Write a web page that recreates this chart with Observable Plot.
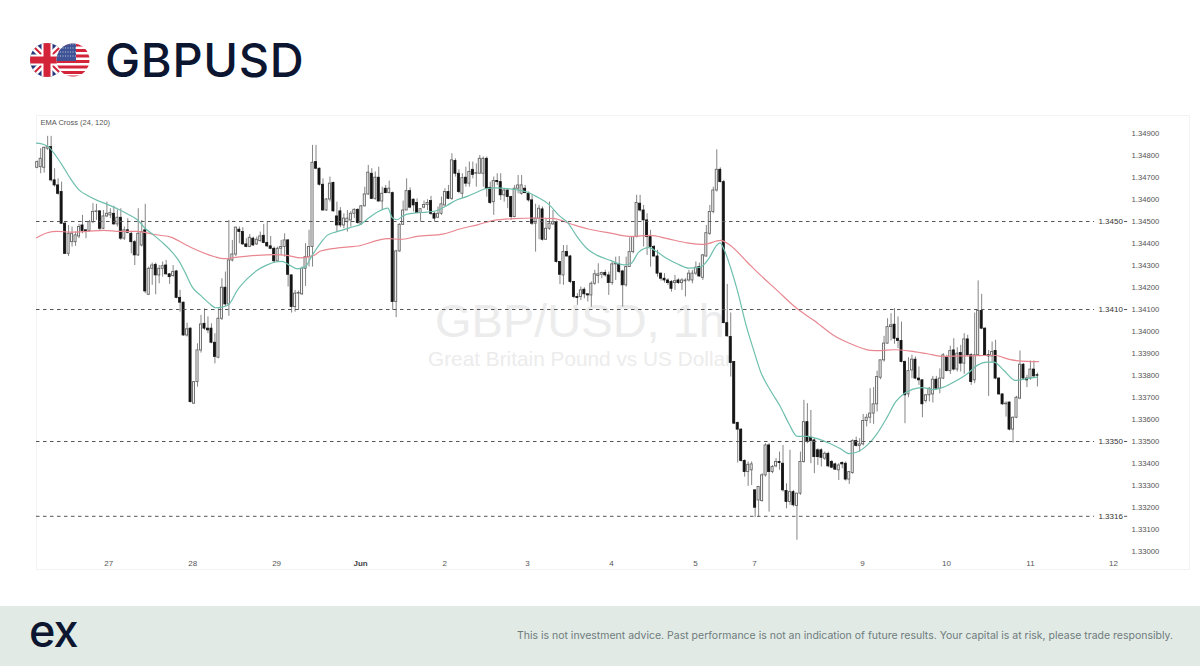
<!DOCTYPE html>
<html>
<head>
<meta charset="utf-8">
<script src="https://cdn.jsdelivr.net/npm/d3@7"></script>
<script src="https://cdn.jsdelivr.net/npm/@observablehq/plot@0.6"></script>
<style>
html,body{margin:0;padding:0;background:#fff;}
#page{position:relative;width:1200px;height:666px;overflow:hidden;}
#head{position:absolute;left:0;top:0;width:1200px;height:115px;}
#flags{position:absolute;left:28px;top:41px;}
#title{position:absolute;left:105px;top:36px;font:500 47px/47px Inter,sans-serif;color:#0c1630;letter-spacing:.7px;}
#panel{position:absolute;left:36px;top:115px;width:1154px;height:455px;border:1px solid #f2f3f3;box-sizing:border-box;}
#chart{position:absolute;left:0;top:115px;}
#foot{position:absolute;left:0;top:606px;width:1200px;height:60px;background:#e1eae5;}
#logo{position:absolute;left:29px;top:3px;font:500 45px/44px Inter,sans-serif;color:#0c1630;letter-spacing:-1px;}
#note{position:absolute;right:27px;top:22px;font:400 10.5px/16px Inter,sans-serif;color:#6f7c7d;white-space:nowrap;}
</style>
</head>
<body>
<div id="page">
  <div id="head">
    <svg id="flags" width="64" height="38" viewBox="0 0 64 38">
      <defs>
        <clipPath id="uk"><circle cx="19" cy="19" r="17"/></clipPath>
        <clipPath id="us"><circle cx="45" cy="19" r="16.5"/></clipPath>
      </defs>
      <g clip-path="url(#uk)">
        <rect width="38" height="38" fill="#24357c"/>
        <path d="M0 0L38 38M38 0L0 38" stroke="#fff" stroke-width="7"/>
        <path d="M0 0L38 38M38 0L0 38" stroke="#d3243a" stroke-width="2"/>
        <path d="M19 0V38M0 19H38" stroke="#fff" stroke-width="11"/>
        <path d="M19 0V38M0 19H38" stroke="#d3243a" stroke-width="7"/>
      </g>
      <g clip-path="url(#us)">
        <rect x="27" width="37" height="38" fill="#fff"/>
        <path d="M27 4H64M27 9.5H64M27 15H64M27 20.5H64M27 26H64M27 31.500H64M27 36H64" stroke="#d3243a" stroke-width="2.800"/>
        <rect x="27" width="21" height="20" fill="#3f5596"/>
        <path d="M27 3H48M27 7H48M27 11H48M27 15H48" stroke="#fff" stroke-width="1" stroke-dasharray="1,1.500" opacity=".7"/>
      </g>
    </svg>
    <div id="title">GBPUSD</div>
  </div>
  <div id="panel"></div>
  <div id="chart"></div>
  <div id="foot">
    <div id="logo">ex</div>
    <div id="note">This is not investment advice. Past performance is not an indication of future results. Your capital is at risk, please trade responsibly.</div>
  </div>
</div>
<script>
// hourly candles, each row is [open, high, low, close] in 1/100000 of a dollar
const hours001 = [
[134744,134775,134740,134770],[134747,134831,134717,134785],[134744,134838,134720,134835],[134831,134887,134823,134838],
[134838,134887,134679,134687],[134687,134740,134656,134664],[134664,134694,134619,134626],[134634,134679,134487,134490],
[134490,134497,134350,134353],[134353,134482,134341,134444],[134406,134475,134384,134444],[134406,134452,134387,134437],
[134432,134487,134422,134475],[134482,134528,134444,134457],[134460,134462,134422,134452],[134457,134505,134452,134497],
[134497,134581,134490,134543],[134543,134578,134505,134546],[134546,134550,134457,134467],[134467,134550,134463,134523],
[134523,134588,134517,134535],[134528,134558,134513,134538],[134535,134569,134482,134487],[134487,134553,134475,134517]];
const hours025 = [
[134517,134558,134414,134422],[134422,134475,134414,134460],[134460,134513,134444,134449],[134444,134452,134353,134406],
[134406,134414,134300,134346],[134346,134558,134341,134444],[134391,134505,134384,134452],[134460,134578,134172,134182],
[134167,134293,134164,134285],[134285,134311,134210,134300],[134303,134311,134167,134255],[134255,134300,134217,134285],
[134285,134316,134247,134297],[134300,134323,134255,134260],[134260,134263,134214,134247],[134252,134300,134247,134270],
[134273,134278,134149,134153],[134153,134187,134088,134131],[134131,134134,133978,133982],[133982,134038,133975,134010],
[134013,134016,133675,133679],[133672,133772,133669,133770],[133770,133944,133747,133914],[133914,134073,133902,134032]];
const hours049 = [
[134035,134103,134005,134013],[134013,134066,133990,134005],[134013,134035,133944,133949],[133949,133990,133853,133884],
[133881,134103,133876,134058],[134058,134240,134050,134199],[134199,134270,134114,134123],[134123,134505,134069,134323],
[134323,134414,134316,134350],[134350,134475,134341,134472],[134463,134475,134399,134452],[134452,134472,134391,134396],
[134396,134422,134381,134384],[134384,134441,134381,134426],[134422,134429,134387,134391],[134396,134429,134391,134417],
[134411,134452,134406,134432],[134435,134487,134399,134402],[134402,134497,134381,134387],[134387,134432,134372,134376],
[134376,134384,134311,134319],[134319,134384,134316,134376],[134376,134414,134346,134384],[134384,134444,134338,134414]];
const hours073 = [
[134414,134417,134202,134258],[134255,134258,134084,134111],[134111,134187,134088,134172],[134172,134184,134096,134175],
[134169,134293,134164,134285],[134285,134399,134205,134338],[134338,134460,134293,134384],[134384,134846,134293,134767],
[134770,134846,134735,134740],[134740,134743,134661,134667],[134667,134694,134547,134550],[134550,134604,134546,134600],
[134600,134702,134588,134672],[134675,134679,134543,134546],[134523,134588,134452,134482],[134546,134563,134472,134482],
[134482,134535,134467,134513],[134497,134550,134452,134513],[134505,134546,134475,134535],[134535,134558,134513,134553],
[134553,134558,134487,134493],[134490,134573,134482,134569],[134569,134656,134566,134623],[134623,134755,134619,134722]];
const hours097 = [
[134717,134740,134599,134603],[134603,134725,134596,134699],[134699,134747,134588,134591],[134591,134656,134550,134626],
[134649,134664,134626,134629],[134629,134684,134626,134649],[134629,134634,134096,134134],[134134,134369,134063,134364],
[134364,134490,134360,134485],[134485,134593,134482,134550],[134550,134694,134550,134638],[134638,134653,134558,134563],
[134599,134603,134543,134573],[134584,134603,134535,134538],[134538,134558,134497,134556],[134563,134593,134558,134575],
[134575,134599,134550,134584],[134593,134614,134528,134535],[134535,134543,134497,134513],[134517,134566,134513,134535],
[134535,134611,134528,134578],[134573,134649,134569,134634],[134634,134664,134599,134603],[134603,134808,134596,134778]];
const hours121 = [
[134775,134785,134702,134717],[134717,134735,134626,134634],[134626,134717,134603,134697],[134699,134747,134656,134672],
[134672,134770,134656,134725],[134735,134770,134694,134712],[134717,134762,134656,134720],[134717,134800,134717,134785],
[134717,134793,134656,134785],[134785,134793,134611,134649],[134653,134679,134578,134584],[134588,134702,134528,134684],
[134684,134717,134664,134679],[134679,134717,134596,134619],[134619,134649,134588,134641],[134641,134644,134558,134611],
[134611,134614,134505,134520],[134520,134664,134517,134649],[134649,134709,134626,134664],[134626,134709,134619,134664],
[134649,134664,134626,134629],[134626,134634,134588,134596],[134596,134619,134482,134490],[134490,134578,134361,134513]];
const hours145 = [
[134513,134573,134417,134558],[134555,134566,134411,134417],[134417,134513,134414,134467],[134467,134588,134460,134490],
[134487,134550,134482,134497],[134497,134502,134311,134316],[134316,134316,134213,134258],[134255,134391,134210,134361],
[134361,134391,134338,134341],[134341,134346,134217,134225],[134225,134228,134149,134157],[134157,134172,134119,134152],
[134157,134202,134141,134187],[134190,134199,134149,134169],[134169,134172,134134,134164],[134164,134225,134111,134217],
[134217,134278,134210,134260],[134252,134308,134217,134260],[134258,134270,134240,134266],[134266,134278,134247,134255],
[134255,134270,134164,134220],[134220,134316,134210,134305],[134305,134338,134232,134308],[134305,134341,134263,134270]];
const hours169 = [
[134273,134278,134111,134210],[134210,134338,134202,134293],[134293,134426,134293,134361],[134361,134432,134353,134429],
[134429,134619,134426,134584],[134581,134619,134543,134550],[134550,134573,134384,134505],[134505,134535,134346,134429],
[134429,134460,134293,134384],[134384,134391,134338,134341],[134341,134369,134247,134263],[134263,134266,134229,134240],
[134240,134263,134220,134232],[134232,134240,134210,134220],[134225,134232,134179,134194],[134220,134255,134187,134229],
[134232,134240,134214,134220],[134220,134240,134187,134232],[134228,134240,134157,134232],[134232,134278,134225,134263],
[134232,134278,134217,134263],[134263,134316,134255,134290],[134293,134311,134247,134250],[134244,134350,134232,134346]];
const hours193 = [
[134341,134482,134338,134447],[134444,134573,134437,134543],[134543,134656,134535,134641],[134641,134826,134634,134735],
[134735,134744,134675,134679],[134679,134687,134035,134038],[134038,134214,133975,133978],[133975,134084,133793,133857],
[133861,133861,133578,133581],[133584,133588,133402,133554],[133554,133558,133407,133411],[133411,133417,133338,133361],
[133361,133407,133296,133394],[133369,133407,133300,133396],[133278,133278,133154,133199],[133232,133296,133157,133293],
[133229,133354,133225,133346],[133346,133490,133338,133482],[133482,133490,133179,133361],[133361,133391,133354,133384],
[133387,133422,133381,133407],[133407,133452,133369,133402],[133399,133482,133270,133278],[133275,133308,133194,133225]];
const hours217 = [
[133225,133460,133210,133270],[133270,133278,133202,133210],[133207,133263,133051,133263],[133263,133452,133255,133407],
[133407,133687,133402,133588],[133588,133672,133490,133497],[133517,133641,133399,133502],[133505,133513,133354,133429],
[133460,133467,133391,133429],[133460,133467,133384,133426],[133422,133452,133414,133444],[133444,133452,133381,133387],
[133407,133414,133376,133381],[133396,133402,133369,133372],[133369,133399,133323,133391],[133402,133407,133376,133396],
[133399,133407,133320,133327],[133327,133361,133305,133361],[133357,133508,133351,133502],[133502,133520,133475,133480],
[133480,133513,133452,133487],[133487,133623,133480,133593],[133593,133623,133566,133608],[133608,133740,133581,133627]];
const hours241 = [
[133627,133745,133578,133669],[133669,133820,133634,133793],[133790,133869,133781,133869],[133869,133978,133861,133945],
[133945,134058,133942,134020],[134020,134081,133957,134028],[134031,134104,133942,133967],[133967,134066,133922,133957],
[133957,134043,133857,133861],[133861,133866,133581,133710],[133714,133881,133699,133820],[133823,133892,133786,133872],
[133872,133884,133781,133786],[133786,133839,133755,133778],[133778,133781,133608,133669],[133684,133714,133675,133710],
[133710,133745,133680,133740],[133714,133796,133675,133781],[133781,133796,133736,133740],[133740,133830,133717,133786],
[133786,133899,133781,133892],[133881,133892,133816,133820],[133820,133933,133805,133911],[133914,133967,133820,133827]];
const hours265 = [
[133827,133926,133816,133899],[133902,133937,133816,133854],[133854,133990,133805,133964],[133964,133983,133884,133892],
[133892,133899,133755,133770],[133778,134084,133763,133892],[133892,134230,133887,134093],[134093,134169,134008,134013],
[134013,134017,133887,133892],[133892,133914,133705,133887],[133887,133952,133857,133907],[133911,133960,133781,133786],
[133786,133790,133710,133714],[133714,133717,133664,133669],[133669,133680,133611,133672],[133677,133680,133548,133554],
[133554,133611,133493,133608],[133608,133705,133604,133699],[133695,133911,133690,133849],[133849,133854,133778,133786],
[133786,133801,133745,133778],[133786,133866,133778,133827],[133827,133866,133790,133796],[133801,133811,133748,133799]];

// EMA 24, read as [bar, price]
const emaFast = [[-0.2,134856],[1.9,134850],[3.3,134838],[5.3,134800],[7.2,134755],[9.6,134694],[12,134644],[14.3,134619],[17.2,134596],[20.1,134578],[23,134558],[25.8,134535],[28.7,134508],[31.1,134467],[33.5,134437],[36.3,134399],[38.7,134361],[40.7,134320],[42.6,134263],[44.5,134202],[46.9,134164],[49.3,134129],[51.2,134108],[53.1,134111],[55,134123],[57.4,134187],[60.3,134240],[63.1,134278],[66,134303],[68.4,134316],[70.3,134319],[72.2,134303],[74.6,134285],[77,134296],[78.9,134346],[81.3,134402],[83.2,134437],[85.6,134452],[88,134463],[90.4,134475],[92.8,134487],[95.2,134517],[97.6,134543],[100.6,134561],[101.9,134517],[103.3,134508],[105.2,134528],[108.1,134538],[111.9,134543],[114.8,134550],[117.6,134573],[120.5,134599],[123.4,134614],[126.3,134634],[128.6,134649],[132,134653],[134.9,134649],[137.7,134644],[140.6,134634],[143.5,134611],[146.8,134578],[149.7,134528],[152.1,134497],[155,134429],[157.8,134376],[160.7,134346],[164.5,134323],[168.3,134303],[170.3,134308],[172.6,134361],[175.5,134381],[177.9,134361],[180.8,134331],[183.6,134308],[187,134288],[190.3,134293],[192.7,134331],[194.6,134384],[195.9,134403],[197,134376],[198.9,134293],[200.9,134187],[203.3,134035],[205.6,133914],[207.6,133816],[210.4,133732],[213.3,133657],[215.7,133581],[218.1,133523],[221,133523],[223.8,133513],[227.6,133490],[230.5,133467],[232.9,133445],[235.3,133452],[238.6,133490],[241,133536],[243.9,133611],[246.3,133680],[248.7,133717],[251.1,133737],[253.9,133745],[257.3,133736],[260.2,133748],[263,133770],[266.9,133808],[269.7,133846],[272.6,133861],[274.5,133861],[277.4,133823],[280.7,133778],[284,133786],[286.9,133793]];
// EMA 120, read as [bar, price]
const emaSlow = [[-0.2,134426],[2.9,134449],[5.7,134455],[9.6,134452],[14.3,134455],[19.1,134460],[23.9,134455],[28.7,134455],[33.5,134441],[38.3,134429],[42.1,134399],[45.9,134369],[50.7,134341],[53.6,134331],[57.4,134338],[63.1,134346],[67.9,134349],[71.7,134346],[75.6,134335],[79.4,134346],[81.3,134366],[87,134381],[92.8,134391],[97.6,134414],[100.9,134422],[104.3,134419],[109,134432],[116.7,134444],[121.5,134467],[126.3,134485],[131,134505],[136.8,134513],[142.5,134516],[148.3,134513],[153,134490],[157.8,134467],[164.5,134447],[170.3,134432],[176,134437],[180.8,134422],[186.5,134403],[191.3,134396],[196.1,134414],[198.9,134391],[203.7,134316],[207.6,134255],[212.3,134187],[218.1,134103],[222.9,134050],[228.6,133982],[233.4,133944],[236.3,133926],[239.1,133914],[242,133913],[245.8,133917],[250.6,133911],[255.4,133899],[260.2,133887],[265,133889],[269.7,133890],[274.5,133892],[279.2,133872],[284,133864],[287.3,133863]];

const priceTicks = [1.33,1.331,1.332,1.333,1.334,1.335,1.336,1.337,1.338,1.339,1.34,1.341,1.342,1.343,1.344,1.345,1.346,1.347,1.348,1.349];
const levels = [1.345,1.341,1.335,1.3316];
const dayLabels = ["27","28","29","2","3","4","5","7","9","10","11","12"];
const dayBars = [20.5,44.6,68.7,116.9,140.7,164.8,188.9,205.8,236.8,260.9,285,308.8];
const monthLabels = ["Jun"];
const monthBars = [92.8];

const rows = [hours001,hours025,hours049,hours073,hours097,hours121,hours145,hours169,hours193,hours217,hours241,hours265]
  .flat().map(([o,h,l,c],i)=>({i,open:o/1e5,high:h/1e5,low:l/1e5,close:c/1e5}));
const up = rows.filter(d=>d.close>=d.open), down = rows.filter(d=>d.close<d.open);
const half = 0.3;
const bodyOpts = {x1:d=>d.i-half,x2:d=>d.i+half,y1:"open",y2:"close"};
const line = a=>a.map(([b,p])=>({b,p:p/1e5}));
const F = "Liberation Sans, Arial, sans-serif";
const chart = Plot.plot({
  width:1200,height:455,marginLeft:36,marginRight:77,marginTop:0,marginBottom:0,
  x:{type:"linear",domain:[-0.2,311.7],axis:null},
  y:{type:"linear",domain:[1.33-19/22000,1.349+18/22000],axis:null},
  style:{background:"transparent",fontFamily:F},
  marks:[
    Plot.text(["GBP/USD, 1h"],{frameAnchor:"middle",lineAnchor:"bottom",dy:-6,fontSize:47,fill:"#ececec"}),
    Plot.text(["Great Britain Pound vs US Dollar"],{frameAnchor:"middle",lineAnchor:"bottom",dy:23,fontSize:20.8,fill:"#ececec"}),
    Plot.ruleX(rows,{x:"i",y1:"low",y2:"high",stroke:"#777",strokeWidth:0.9}),
    Plot.rect(up,{...bodyOpts,fill:"#f4f4f4",stroke:"#666",strokeWidth:0.9}),
    Plot.rect(down,{...bodyOpts,fill:"#141414",stroke:"#141414",strokeWidth:0.8}),
    Plot.line(line(emaSlow),{x:"b",y:"p",stroke:"#e98791",strokeWidth:1.2,curve:"monotone-x"}),
    Plot.line(line(emaFast),{x:"b",y:"p",stroke:"#6fbfae",strokeWidth:1.2,curve:"monotone-x"}),
    Plot.ruleY(levels,{x1:-0.2,x2:303.4,stroke:"#555",strokeWidth:1,strokeDasharray:"3.500,3.500"}),
    Plot.ruleY(levels,{x1:312,x2:312.9,stroke:"#555",strokeWidth:1}),
    Plot.text(levels,{x:304.5,y:d=>d,text:d=>d.toFixed(4),textAnchor:"start",fontSize:8,fill:"#333"}),
    Plot.axisY({anchor:"right",ticks:priceTicks,tickFormat:d3.format(".5f"),tickSize:0,tickPadding:8,fontSize:7.700,color:"#555",label:null}),
    Plot.text(dayLabels,{x:(d,i)=>dayBars[i],text:d=>d,frameAnchor:"bottom",lineAnchor:"bottom",dy:-5,fontSize:8,fill:"#555"}),
    Plot.text(monthLabels,{x:(d,i)=>monthBars[i],text:d=>d,frameAnchor:"bottom",lineAnchor:"bottom",dy:-5,fontSize:8,fontWeight:"bold",fill:"#444"}),
    Plot.text(["EMA Cross (24, 120)"],{frameAnchor:"top-left",lineAnchor:"top",dx:4,dy:4,fontSize:7.500,fill:"#555"})
  ]
});
document.getElementById("chart").appendChild(chart);
</script>
</body>
</html>
